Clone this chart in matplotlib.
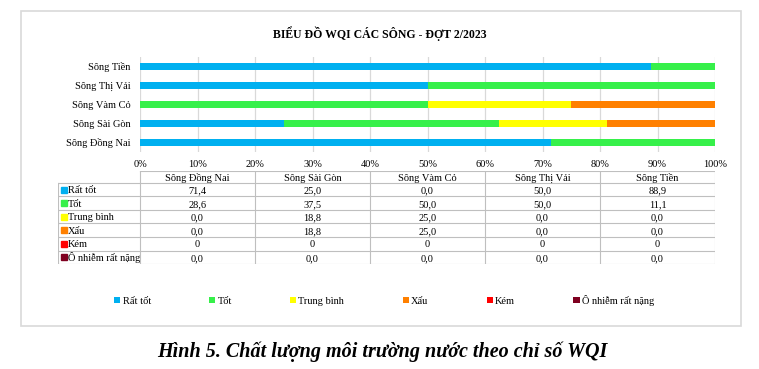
import matplotlib
matplotlib.use("Agg")
import matplotlib.pyplot as plt
from matplotlib.patches import Patch, Rectangle
import numpy as np

rivers = ["Sông Đồng Nai", "Sông Sài Gòn", "Sông Vàm Cỏ", "Sông Thị Vải", "Sông Tiền"]
categories = ["Rất tốt", "Tốt", "Trung bình", "Xấu", "Kém", "Ô nhiễm rất nặng"]
rat_tot = [71.4, 25.0, 0.0, 50.0, 88.9]
tot = [28.6, 37.5, 50.0, 50.0, 11.1]
trung_binh = [0.0, 18.8, 25.0, 0.0, 0.0]
xau = [0.0, 18.8, 25.0, 0.0, 0.0]
kem = [0, 0, 0, 0, 0]
o_nhiem = [0.0, 0.0, 0.0, 0.0, 0.0]
table_text = [
    ["71,4", "25,0", "0,0", "50,0", "88,9"],
    ["28,6", "37,5", "50,0", "50,0", "11,1"],
    ["0,0", "18,8", "25,0", "0,0", "0,0"],
    ["0,0", "18,8", "25,0", "0,0", "0,0"],
    ["0", "0", "0", "0", "0"],
    ["0,0", "0,0", "0,0", "0,0", "0,0"],
]
colors = ["#00B0F0", "#36F04A", "#FFFF00", "#FF8000", "#FF0000", "#7F0020"]
title = "BIỂU ĐỒ WQI CÁC SÔNG - ĐỢT 2/2023"
caption = "Hình 5. Chất lượng môi trường nước theo chỉ số WQI"

plt.rcParams["font.family"] = ["Liberation Serif", "DejaVu Serif"]
W, H = 759, 369
fig = plt.figure(figsize=(W / 100, H / 100), dpi=100)

def fx(px):
    return px / W

def fy(py):
    return 1 - py / H

# outer chart border
fig.add_artist(Rectangle((fx(21), fy(326)), fx(741) - fx(21), fy(11) - fy(326),
                         transform=fig.transFigure, fill=False, edgecolor="#D9D9D9", lw=1.2))

# main bar axes
x0, x1, y0, y1 = 140, 715, 57, 152
ax = fig.add_axes([fx(x0), fy(y1), fx(x1) - fx(x0), fy(y0) - fy(y1)])
series = [rat_tot, tot, trung_binh, xau, kem, o_nhiem]
data = np.array(series, dtype=float)
totals = data.sum(axis=0)
pct = data / totals * 100
ypos = np.arange(len(rivers))
left = np.zeros(len(rivers))
for i, cat in enumerate(categories):
    ax.barh(ypos, pct[i], left=left, height=0.42, color=colors[i], label=cat, zorder=3)
    left += pct[i]
ax.set_xlim(0, 100)
ax.set_ylim(-0.5, len(rivers) - 0.5)
ax.set_yticks(ypos)
ax.set_yticklabels(rivers, fontsize=7.5)
ax.set_xticks(np.arange(0, 101, 10))
ax.set_xticklabels([f"{v}%" for v in range(0, 101, 10)], fontsize=7.5)
ax.tick_params(length=0, pad=7)
ax.tick_params(axis="x", pad=6)
ax.grid(axis="x", color="#D9D9D9", lw=0.9, zorder=0)
for s in ax.spines.values():
    s.set_visible(False)

fig.text(fx(380), fy(38), title, ha="center", va="baseline", fontsize=8.5, fontweight="bold")

# data table
tl, tr, tt, tb = 58, 715, 171.5, 264
tax = fig.add_axes([fx(tl), fy(tb), fx(tr) - fx(tl), fy(tt) - fy(tb)])
tax.set_xlim(tl, tr)
tax.set_ylim(tb, tt)
tax.axis("off")
lc = "#BFBFBF"
header_bottom = 183
row_h = (tb - header_bottom) / len(categories)
base_off = 3.6
col_edges = [x0 + (x1 - x0) * k / len(rivers) for k in range(len(rivers) + 1)]
tax.plot([x0, x1], [tt, tt], color=lc, lw=0.8)
for r in range(len(categories) + 1):
    yy = header_bottom + r * row_h
    tax.plot([tl, tr], [yy, yy], color=lc, lw=0.8)
tax.plot([tl, tl], [header_bottom, tb], color=lc, lw=0.8)
for xe in col_edges:
    tax.plot([xe, xe], [tt, tb], color=lc, lw=0.8)
for c, name in enumerate(rivers):
    cx = (col_edges[c] + col_edges[c + 1]) / 2
    tax.text(cx, (tt + header_bottom) / 2 + base_off, name, ha="center", va="baseline", fontsize=7.5)
for r, cat in enumerate(categories):
    cy = header_bottom + (r + 0.5) * row_h
    tax.add_patch(Rectangle((tl + 3, cy - 3), 6, 6, color=colors[r]))
    tax.text(tl + 9.5, cy + base_off, cat, ha="left", va="baseline", fontsize=7.5)
    for c in range(len(rivers)):
        cx = (col_edges[c] + col_edges[c + 1]) / 2
        tax.text(cx, cy + base_off, table_text[r][c], ha="center", va="baseline", fontsize=7.5)

# legend
handles = [Patch(facecolor=colors[i], edgecolor="none", label=categories[i]) for i in range(len(categories))]
fig.legend(handles=handles, loc="center", bbox_to_anchor=(fx(384), fy(300)), ncol=6,
           frameon=False, fontsize=7.5, handlelength=0.6, handleheight=0.6,
           handletextpad=0.2, columnspacing=5.6)

fig.text(fx(382), fy(356.5), caption, ha="center", va="baseline", fontsize=14.5,
         fontweight="bold", fontstyle="italic")

fig.savefig("out.png", dpi=100)
